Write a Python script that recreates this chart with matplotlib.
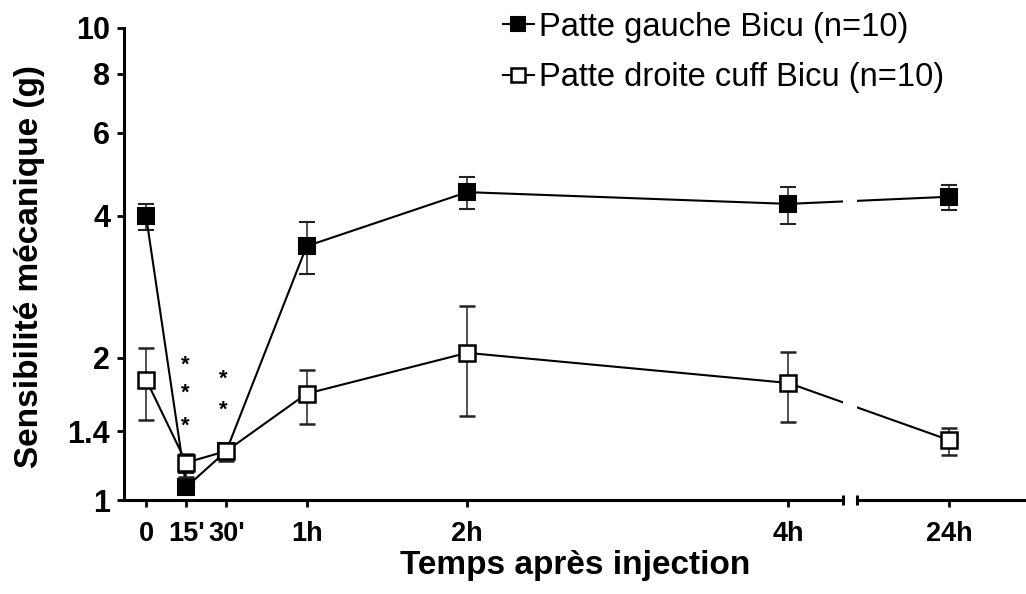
import numpy as np
import matplotlib
matplotlib.use("Agg")
import matplotlib.pyplot as plt
import matplotlib.ticker as mticker

plt.rcParams['font.family'] = ['Liberation Sans', 'DejaVu Sans']

# data
time_labels = ["0", "15'", "30'", "1h", "2h", "4h", "24h"]
xpos = [0, 0.25, 0.5, 1, 2, 4, 5]   # 24h sits after the axis break

gauche = [4.0, 1.065, 1.27, 3.45, 4.49, 4.24, 4.39]
gauche_hi = [4.24, 1.14, 1.30, 3.88, 4.83, 4.61, 4.65]
gauche_lo = [3.73, 1.03, 1.24, 3.01, 4.14, 3.84, 4.11]

droite = [1.80, 1.20, 1.27, 1.68, 2.05, 1.77, 1.34]
droite_hi = [2.10, 1.25, 1.31, 1.89, 2.58, 2.06, 1.42]
droite_lo = [1.48, 1.12, 1.21, 1.45, 1.51, 1.46, 1.245]

# significance stars
star_x = [0.245, 0.245, 0.245, 0.48, 0.48]
star_y = [1.93, 1.68, 1.43, 1.80, 1.55]

yticks = [1, 1.4, 2, 4, 6, 8, 10]
brk = (4.34, 4.43)

fig = plt.figure(figsize=(10.26, 5.94), dpi=100)
ax = fig.add_axes([0.1209, 0.1582, 0.8791, 0.7947])

g = np.array(gauche)
d = np.array(droite)
eb1 = ax.errorbar(xpos, g, yerr=[g - np.array(gauche_lo), np.array(gauche_hi) - g],
                  fmt='s-', color='black', ms=11.5, mfc='black', mec='black', mew=1.5,
                  lw=1.5, ecolor='#222222', elinewidth=1.1, capsize=6, capthick=1.1,
                  label='Patte gauche Bicu (n=10)', zorder=3)
eb2 = ax.errorbar(xpos, d, yerr=[d - np.array(droite_lo), np.array(droite_hi) - d],
                  fmt='s-', color='black', ms=11.5, mfc='white', mec='black', mew=1.8,
                  lw=1.5, ecolor='#222222', elinewidth=1.1, capsize=6, capthick=1.1,
                  label='Patte droite cuff Bicu (n=10)', zorder=4)

for sx, sy in zip(star_x, star_y):
    ax.text(sx, sy, '*', ha='center', va='center', fontsize=16, fontweight='bold')

# white gap for the axis break
ax.axvspan(brk[0], brk[1], color='white', zorder=5, lw=0)

ax.set_yscale('log')
ax.set_ylim(1, 10)
ax.set_xlim(-0.137, 5.48)
ax.yaxis.set_major_locator(mticker.FixedLocator(yticks))
ax.yaxis.set_major_formatter(mticker.FixedFormatter([str(t) for t in yticks]))
ax.yaxis.set_minor_locator(mticker.NullLocator())
ax.set_xticks(xpos)
ax.set_xticklabels(time_labels)

for s in ['top', 'right', 'bottom']:
    ax.spines[s].set_visible(False)
ax.spines['left'].set_linewidth(2.2)

# broken bottom axis
tr = ax.get_xaxis_transform()
ax.plot([-0.137, brk[0]], [0, 0], color='black', lw=2.2, transform=tr, clip_on=False, zorder=6)
ax.plot([brk[1], 5.48], [0, 0], color='black', lw=2.2, transform=tr, clip_on=False, zorder=6)
ax.plot([brk[0], brk[1]], [0, 0], '|', color='black', ms=7, mew=2.2, transform=tr,
        clip_on=False, zorder=6)

ax.tick_params(axis='both', direction='out', length=5, width=2)
ax.tick_params(axis='x', labelsize=19.5, pad=10)
ax.tick_params(axis='y', labelsize=22, pad=5)
for lab in ax.get_xticklabels() + ax.get_yticklabels():
    lab.set_fontweight('bold')

ax.set_xlabel('Temps après injection', fontsize=24, fontweight='bold', labelpad=2)
ax.set_ylabel('Sensibilité mécanique (g)', fontsize=24, fontweight='bold')
ax.yaxis.set_label_coords(-0.088, 0.495)

ax.legend(handles=[eb1[0], eb2[0]], labels=[eb1.get_label(), eb2.get_label()],
          loc='upper left', bbox_to_anchor=(0.490, 0.98), bbox_transform=fig.transFigure,
          frameon=False, fontsize=23.5, handlelength=0.95, handletextpad=0.15,
          labelspacing=0.6, markerscale=0.85, borderaxespad=0, borderpad=0)

fig.savefig('out.png', dpi=100)
